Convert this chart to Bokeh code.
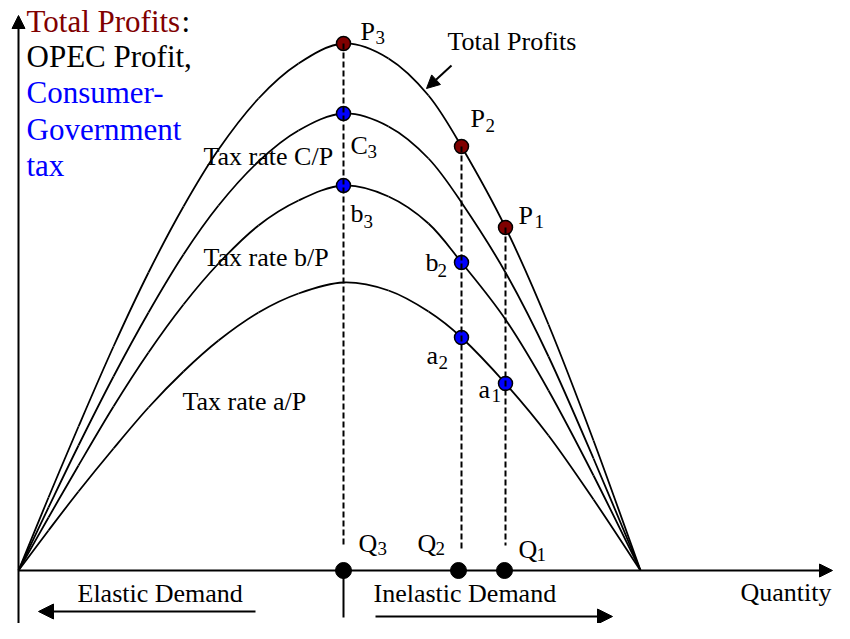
from bokeh.plotting import figure
from bokeh.models import ColumnDataSource, Range1d, Arrow, NormalHead
from bokeh.core.properties import value
from bokeh.embed import file_html
from bokeh.resources import INLINE

# ---------------- data ----------------
# quantity positions at which the four curves were read
quantity = [0, 30, 60, 95, 130, 165, 200, 240, 280, 325, 370, 410, 443, 487, 530, 575, 622]
total_profits = [0, 73, 144, 224, 298, 364, 421, 472, 507, 527, 512, 475, 424, 343, 246, 130, 0]
tax_c_curve = [0, 63, 125, 194, 258, 316, 365, 409, 440, 457, 444, 412, 368, 298, 214, 112, 0]
tax_b_curve = [0, 53, 105, 164, 218, 266, 307, 345, 370, 385, 374, 347, 308, 251, 180, 95, 0]
tax_a_curve = [0, 40, 79, 122, 163, 199, 230, 258, 277, 288, 280, 259, 233, 187, 135, 71, 0]

# OPEC total-profit points P3, P2, P1
profit_q = [325, 443, 487]
profit_v = [527, 424, 343]
profit_sub = ["3", "2", "1"]

# consumer-government tax points C3, b3, b2, a2, a1
tax_q = [325, 325, 443, 443, 487]
tax_v = [457, 385, 308, 233, 187]
tax_main = ["C", "b", "b", "a", "a"]
tax_sub = ["3", "3", "2", "2", "1"]

# quantity marks Q3, Q2, Q1
qmark_q = [325, 440, 486]
qmark_sub = ["3", "2", "1"]

# ---------------- layout ----------------
FONT = value("Liberation Serif")
MAROON = "#800000"
BLUE = "#0000FF"

p = figure(width=834, height=623, x_range=Range1d(-18, 816), y_range=Range1d(-53, 570),
           output_backend="svg", toolbar_location=None, min_border=0,
           x_axis_location=None, y_axis_location=None)
p.grid.visible = False
p.outline_line_color = None
p.background_fill_color = "white"


def bezier_source(xs, ys):
    n = len(xs)
    d = dict(x0=[], y0=[], x1=[], y1=[], cx0=[], cy0=[], cx1=[], cy1=[])
    for i in range(n - 1):
        xm, ym = (xs[i - 1], ys[i - 1]) if i > 0 else (xs[i], ys[i])
        xp, yp = (xs[i + 2], ys[i + 2]) if i + 2 < n else (xs[i + 1], ys[i + 1])
        d["x0"].append(xs[i]); d["y0"].append(ys[i])
        d["x1"].append(xs[i + 1]); d["y1"].append(ys[i + 1])
        d["cx0"].append(xs[i] + (xs[i + 1] - xm) / 6.0)
        d["cy0"].append(ys[i] + (ys[i + 1] - ym) / 6.0)
        d["cx1"].append(xs[i + 1] - (xp - xs[i]) / 6.0)
        d["cy1"].append(ys[i + 1] - (yp - ys[i]) / 6.0)
    return ColumnDataSource(d)


for curve in (total_profits, tax_c_curve, tax_b_curve, tax_a_curve):
    p.bezier(x0="x0", y0="y0", x1="x1", y1="y1", cx0="cx0", cy0="cy0", cx1="cx1", cy1="cy1",
             source=bezier_source(quantity, curve), line_color="black", line_width=1.8)


def head(size):
    return NormalHead(size=size, fill_color="black", line_color="black")


# axes with arrow heads
p.add_layout(Arrow(end=head(13), x_start=0, y_start=-75, x_end=0, y_end=555,
                   line_width=2, line_color="black"))
p.add_layout(Arrow(end=head(13), x_start=0, y_start=0, x_end=814, y_end=0,
                   line_width=2, line_color="black"))

# demand direction arrows and divider
p.add_layout(Arrow(end=head(15), x_start=237, y_start=-41, x_end=20, y_end=-41,
                   line_width=2, line_color="black"))
p.add_layout(Arrow(end=head(15), x_start=357, y_start=-46, x_end=594, y_end=-46,
                   line_width=2, line_color="black"))
p.segment(x0=[325], y0=[-7], x1=[325], y1=[-47], line_color="black", line_width=2)

# "Total Profits" pointer arrow
p.add_layout(Arrow(end=head(13), x_start=433, y_start=505, x_end=408, y_end=482,
                   line_width=2, line_color="black"))

# points
p.scatter(x=profit_q, y=profit_v, size=14, fill_color=MAROON, line_color="black", line_width=1.5)
p.scatter(x=tax_q, y=tax_v, size=14, fill_color=BLUE, line_color="black", line_width=1.5)

# dashed drop lines
p.segment(x0=profit_q, y0=profit_v, x1=profit_q, y1=[25, 20, 25],
          line_color="black", line_width=2, line_dash="6 3")

p.scatter(x=qmark_q, y=[0, 0, 0], size=16, fill_color="black", line_color="black")

BASELINE_FIX = 0.37  # shift (in em) compensating the renderer's baseline placement


def txt(xs, ys, texts, size, color="black", align="left"):
    fix = BASELINE_FIX * size
    p.text(x=xs, y=[y + fix for y in ys], text=texts, text_font=FONT,
           text_font_size=value(f"{size}px"), text_color=color,
           text_baseline="alphabetic", text_align=align)


# point labels (main letter + subscript)
txt([342, 452, 500], [529, 442, 345], ["P", "P", "P"], 26)
txt([357, 467, 516], [526, 438, 342], profit_sub, 19)
txt([332, 332, 407, 408, 460], [415, 347, 298, 205, 171], tax_main, 26)
txt([349, 345, 419, 420, 473], [412, 342, 293, 201, 168], tax_sub, 19)
txt([340, 399, 500], [17, 17, 11], ["Q", "Q", "Q"], 26)
txt([359, 417, 518], [15, 15, 9], qmark_sub, 19)

# curve labels
txt([185, 185, 164], [404, 303, 159], ["Tax rate C/P", "Tax rate b/P", "Tax rate a/P"], 26)
txt([429], [519], ["Total Profits"], 26)

# axis / region labels
txt([59], [-33], ["Elastic Demand"], 26)
txt([355], [-33], ["Inelastic Demand"], 26)
txt([813], [-32], ["Quantity"], 26, align="right")

# y-axis title block
txt([8], [538], ["Total Profits"], 31, MAROON)
txt([163], [538], [":"], 31)
txt([8], [503], ["OPEC Profit,"], 31)
txt([8, 8, 8], [467, 430, 394], ["Consumer-", "Government", "tax"], 31, BLUE)

open("out.html", "w").write(file_html(p, INLINE))
